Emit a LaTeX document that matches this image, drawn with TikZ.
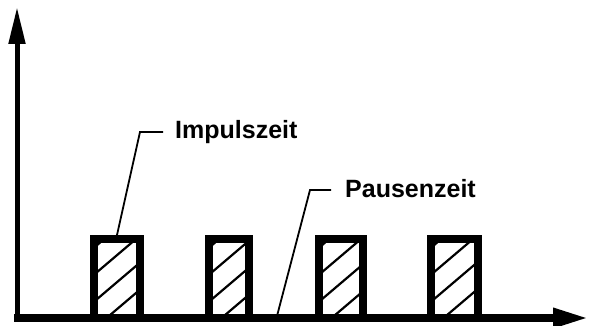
\documentclass[tikz,border=0pt]{standalone}
\usepackage{fontspec}
\setmainfont{Liberation Sans}
\usetikzlibrary{arrows.meta}
\tikzset{
  axisline/.style={line width=#1, draw=black},
  pulseborder/.style={line width=8pt, draw=black, line join=miter},
  hatchline/.style={line width=2.2pt, draw=black},
  leader/.style={line width=1.8pt, draw=black, line join=miter},
  lab/.style={font=\fontsize{25}{30}\selectfont\bfseries, inner sep=0pt, anchor=base west}
}
\newcommand{\mypulse}[3]{% left outer x, right outer x, name
  \coordinate (#3top) at ({(#1+#2)/2},235);
  \begin{scope}
    \clip (#1+8,243) rectangle (#2-8,316);
    \foreach \k in {0,...,3}{
      \draw[hatchline] (#1+6,{246+27*\k}) -- (#2-6,{246+27*\k-0.85*(#2-#1-12)});
    }
  \end{scope}
  \draw[pulseborder] (#1+4,320) -- (#1+4,239) -- (#2-4,239) -- (#2-4,320);
}
\begin{document}
\begin{tikzpicture}[x=1pt,y=-1pt]
\useasboundingbox (0,0) rectangle (591,326);
\coordinate (yorig) at (17,322);
\coordinate (ytip) at (17,7);
\coordinate (xorig) at (14,318);
\coordinate (xtip) at (590,318);
\mypulse{90}{144}{pa}
\mypulse{205}{253}{pb}
\mypulse{315}{367}{pc}
\mypulse{427}{482}{pd}
\draw[axisline=5pt, -{Triangle[length=37pt,width=16pt]}] (yorig) -- (ytip);
\draw[axisline=8.5pt, -{Triangle[length=37pt,width=18pt]}] (xorig) -- (xtip);
\node[lab] (imp) at (175,138) {Impulszeit};
\node[lab] (pau) at (345,197) {Pausenzeit};
\coordinate (impk) at (140,132);
\coordinate (impe) at (163,132);
\coordinate (pauk) at (310,190);
\coordinate (paue) at (331,190);
\coordinate (paus) at (277,316);
\draw[leader] (patop) -- (impk) -- (impe);
\draw[leader] (paus) -- (pauk) -- (paue);
\end{tikzpicture}
\end{document}
